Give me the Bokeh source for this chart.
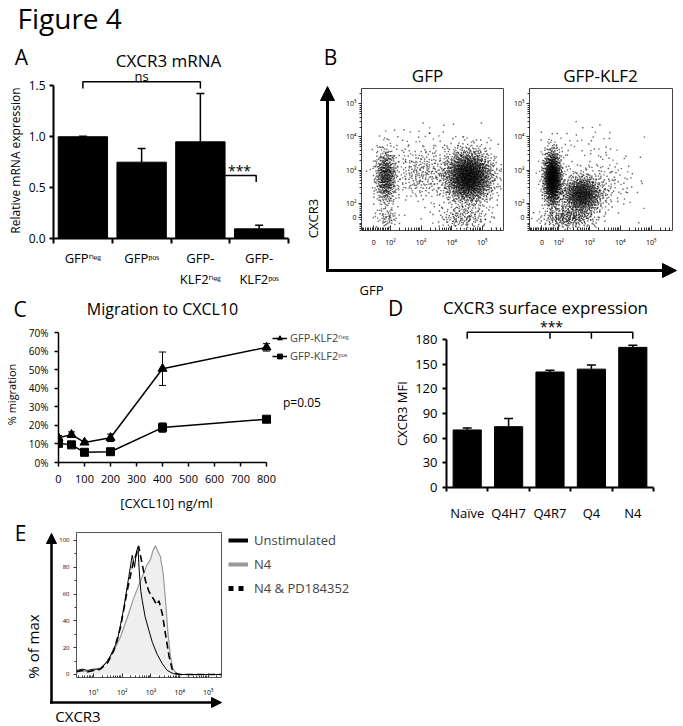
import numpy as np
from bokeh.plotting import figure
from bokeh.models import (Label, Arrow, NormalHead, Whisker, TeeHead, ColumnDataSource,
                          FixedTicker, Legend, LegendItem, Range1d, PrintfTickFormatter, GridBox)
from bokeh.embed import file_html
from bokeh.resources import INLINE

FONT = "Open Sans"
W, H = 680, 724   # whole page, in the reference's pixel coordinates

# ---------------- data ----------------
# A: CXCR3 mRNA
a_categories = ["GFPⁿᵉᵍ", "GFPᵖᵒˢ", "GFP-\nKLF2ⁿᵉᵍ", "GFP-\nKLF2ᵖᵒˢ"]
a_values = [1.00, 0.75, 0.95, 0.095]
a_errors = [0.005, 0.135, 0.475, 0.035]
a_ns_pair = (0, 2)
a_ns_height = 1.54
a_star_height = 0.62

# B: flow cytometry dot plots, display units (decades); clusters
b_tick_x = [1.455, 2, 3, 4, 5]
b_tick_y = [1.577, 2, 3, 4, 5]
b_tick_labels = ["0", "10²", "10³", "10⁴", "10⁵"]
b_left_cx = [1.85, 4.55, 3.00, 4.40, 1.90, 3.20]
b_left_cy = [2.80, 2.80, 2.90, 1.55, 1.55, 3.90]
b_left_sx = [0.18, 0.40, 0.45, 0.45, 0.20, 0.90]
b_left_sy = [0.43, 0.40, 0.40, 0.18, 0.15, 0.30]
b_left_n = [550, 2000, 260, 160, 60, 40]
b_right_cx = [1.80, 2.75, 2.30, 3.60, 2.80]
b_right_cy = [2.75, 2.25, 1.55, 2.60, 3.80]
b_right_sx = [0.15, 0.33, 0.45, 0.50, 0.70]
b_right_sy = [0.42, 0.30, 0.16, 0.45, 0.35]
b_right_n = [1200, 1000, 280, 120, 40]

# C: migration to CXCL10
c_dose = [0, 50, 100, 200, 400, 800]
c_neg = [13.3, 15.0, 10.8, 13.3, 50.5, 62.0]
c_neg_err = [1.2, 1.5, 0.8, 2.0, 9.0, 2.0]
c_pos = [10.3, 9.5, 5.5, 5.8, 18.8, 23.3]
c_pos_err = [1.5, 1.0, 0.6, 0.6, 2.5, 0.8]

# D: CXCR3 surface expression
d_categories = ["Naïve", "Q4H7", "Q4R7", "Q4", "N4"]
d_values = [70, 74, 140.5, 144, 170.5]
d_errors = [2.5, 10, 2, 5, 2.5]
d_bracket_legs = [0, 2, 3, 4]
d_bracket_height = 189

# E: CXCR3 histograms (log10 fluorescence, % of max)
e_unstim_x = [0.41, 0.6, 0.8, 1.0, 1.24, 1.45, 1.59, 1.83, 2.06, 2.23, 2.35, 2.43, 2.5, 2.55, 2.6, 2.65,
              2.70, 2.8, 2.93, 3.05, 3.22, 3.4, 3.57, 3.7, 3.8, 4.0, 5.46]
e_unstim_y = [3, 4, 3, 4, 4, 9, 14, 25, 50, 73, 89, 80, 92, 95, 75, 62,
              55, 43, 33, 24, 15, 8, 3, 1.5, 0.5, 0, 0]
e_n4_x = [0.41, 0.6, 0.8, 1.0, 1.24, 1.5, 1.71, 1.94, 2.17, 2.40, 2.64, 2.87, 2.99, 3.08, 3.16, 3.24,
          3.33, 3.43, 3.51, 3.59, 3.68, 3.77, 3.89, 4.0, 5.46]
e_n4_y = [2, 3, 2, 3, 5, 10, 18, 28, 42, 57, 70, 82, 86, 93, 96, 92,
          88, 75, 55, 32, 14, 4, 1, 0, 0]
e_pd_x = [0.41, 0.6, 0.8, 1.0, 1.24, 1.5, 1.71, 1.94, 2.17, 2.40, 2.5, 2.57, 2.70, 2.81, 2.93, 3.10,
          3.20, 3.28, 3.40, 3.51, 3.63, 3.74, 3.86, 4.0, 5.46]
e_pd_y = [2, 3, 2, 3, 4, 9, 18, 35, 62, 85, 90, 96, 82, 70, 62, 56,
          52, 55, 45, 30, 14, 4, 1, 0, 0]
e_series = ["Unstimulated", "N4", "N4 & PD184352"]


# ---------------- helpers ----------------
def make_figure(**kw):
    kw.update(output_backend="svg", toolbar_location=None, width=W, height=H)
    try:
        f = figure(frame_align=False, **kw)
    except Exception:
        f = figure(**kw)
    f.border_fill_alpha = 0
    f.background_fill_alpha = 0
    f.outline_line_color = None
    return f


def panel(frame_box, xr, yr):
    """A full-page transparent canvas whose plotting frame sits at frame_box (page px)."""
    fl, ft, fr, fb = frame_box
    f = make_figure(x_range=Range1d(*xr), y_range=Range1d(*yr),
                    min_border_left=fl, min_border_right=W - fr,
                    min_border_top=ft, min_border_bottom=H - fb)
    f.xgrid.visible = False
    f.ygrid.visible = False
    return f


def style_axis(ax, size, tick_in=0, tick_out=4, standoff=4, minor_in=0, minor_out=0,
               width=1.0, color="black"):
    ax.major_label_text_font = FONT
    ax.major_label_text_font_size = f"{size}px"
    ax.major_label_text_color = "black"
    ax.major_tick_in = int(tick_in)
    ax.major_tick_out = int(tick_out)
    ax.minor_tick_in = int(minor_in)
    ax.minor_tick_out = int(minor_out)
    ax.major_label_standoff = int(standoff)
    ax.axis_line_width = width
    ax.major_tick_line_width = width
    ax.minor_tick_line_width = width
    ax.axis_line_color = color
    ax.major_tick_line_color = color
    ax.minor_tick_line_color = color


def halton(n, base, skip):
    seq = np.zeros(n)
    for i in range(n):
        f, r, k = 1.0, 0.0, i + skip
        while k > 0:
            f /= base
            r += f * (k % base)
            k //= base
        seq[i] = r
    return seq


def clouds(cx, cy, sx, sy, ns):
    xs, ys = [], []
    for j, (a, b, c, d, n) in enumerate(zip(cx, cy, sx, sy, ns)):
        u1 = halton(n, 2, 1 + 4099 * j)
        u2 = halton(n, 3, 1 + 4099 * j)
        rr = np.sqrt(-2 * np.log(u1))
        th = 2 * np.pi * u2
        xs.append(a + c * rr * np.cos(th))
        ys.append(b + d * rr * np.sin(th))
    return np.concatenate(xs), np.concatenate(ys)


# ---------------- panel A ----------------
pa = panel((53, 65, 288, 238), (-0.5, 3.5), (0, 1.7))
a_idx = list(range(len(a_categories)))
a_width = 0.84
pa.vbar(x=a_idx, top=a_values, width=a_width, fill_color="black", line_color="black")
a_src = ColumnDataSource(dict(x=a_idx, lo=a_values, hi=[v + e for v, e in zip(a_values, a_errors)]))
pa.add_layout(Whisker(source=a_src, base="x", lower="lo", upper="hi", line_width=1.5,
                      upper_head=TeeHead(size=8, line_width=1.5), lower_head=None))
i0, i1 = a_ns_pair
pa.line(x=[i0, i0, i1, i1], y=[a_ns_height - 0.065, a_ns_height, a_ns_height, a_ns_height - 0.065],
        line_color="black", line_width=1.5)
pa.line(x=[2 + a_width / 2, 2.95, 2.95], y=[a_star_height, a_star_height, a_star_height - 0.065],
        line_color="black", line_width=1.5)
pa.xaxis.ticker = FixedTicker(ticks=a_idx, minor_ticks=[-0.5, 0.5, 1.5, 2.5, 3.5])
pa.xaxis.major_label_overrides = {i: c for i, c in enumerate(a_categories)}
style_axis(pa.xaxis[0], 13, tick_in=0, tick_out=0, standoff=5, minor_out=5, width=2)
pa.yaxis.ticker = FixedTicker(ticks=[0, 0.5, 1.0, 1.5])
pa.yaxis.formatter = PrintfTickFormatter(format="%.1f")
pa.yaxis.bounds = (0, 1.5)
style_axis(pa.yaxis[0], 12, tick_out=4, standoff=4, width=2)

# ---------------- panel B ----------------
b_minor = [np.log10(k) + d for d in range(2, 6) for k in range(2, 10)] + \
          [1.455 + 0.0545 * k for k in range(-7, 10) if k != 0]


def flow_panel(frame_box, cx, cy, sx, sy, ns):
    f = panel(frame_box, (1.053, 5.693), (1.175, 5.465))
    f.outline_line_color = "#444444"
    f.outline_line_width = 1
    xs, ys = clouds(cx, cy, sx, sy, ns)
    f.scatter(xs, ys, marker="square", size=1.4, fill_color="black", line_color=None, fill_alpha=0.6)
    f.xaxis.ticker = FixedTicker(ticks=b_tick_x, minor_ticks=b_minor)
    f.xaxis.major_label_overrides = dict(zip(b_tick_x, b_tick_labels))
    style_axis(f.xaxis[0], 7, tick_in=5, tick_out=0, standoff=7, minor_in=3, color="#333333")
    f.xaxis.axis_line_color = None
    f.yaxis.ticker = FixedTicker(ticks=b_tick_y, minor_ticks=b_minor)
    f.yaxis.major_label_overrides = dict(zip(b_tick_y, b_tick_labels))
    style_axis(f.yaxis[0], 7, tick_out=3, standoff=2, minor_out=2, color="#333333")
    f.yaxis.axis_line_color = None
    return f


pb1 = flow_panel((361, 88, 503, 230), b_left_cx, b_left_cy, b_left_sx, b_left_sy, b_left_n)
pb2 = flow_panel((529, 88, 672, 230), b_right_cx, b_right_cy, b_right_sx, b_right_sy, b_right_n)

# ---------------- panel C ----------------
# frame reaches right to hold the legend; x axis itself is bounded to 0..800
pc = panel((58, 326, 365, 462), (0, 307 / 0.26), (0, 136 / 1.857))
rn_l = pc.line(c_dose, c_neg, line_color="black", line_width=1.5)
rn_s = pc.scatter(c_dose, c_neg, marker="triangle", size=9, color="black")
rp_l = pc.line(c_dose, c_pos, line_color="black", line_width=1.5)
rp_s = pc.scatter(c_dose, c_pos, marker="square", size=8, color="black")
for vals, errs in ((c_neg, c_neg_err), (c_pos, c_pos_err)):
    s = ColumnDataSource(dict(x=c_dose, lo=[v - e for v, e in zip(vals, errs)],
                              hi=[v + e for v, e in zip(vals, errs)]))
    pc.add_layout(Whisker(source=s, base="x", lower="lo", upper="hi", line_width=1,
                          upper_head=TeeHead(size=7, line_width=1),
                          lower_head=TeeHead(size=7, line_width=1)))
pc.xaxis.ticker = FixedTicker(ticks=list(range(0, 801, 100)))
pc.xaxis.bounds = (0, 800)
style_axis(pc.xaxis[0], 11, tick_out=4, standoff=8, width=1.5)
pc.yaxis.ticker = FixedTicker(ticks=list(range(0, 71, 10)))
pc.yaxis.formatter = PrintfTickFormatter(format="%d%%")
pc.yaxis.bounds = (0, 70)
style_axis(pc.yaxis[0], 10, tick_out=4, standoff=6, width=1.5)
c_legend = Legend(items=[LegendItem(label="GFP-KLF2ⁿᵉᵍ", renderers=[rn_l, rn_s]),
                         LegendItem(label="GFP-KLF2ᵖᵒˢ", renderers=[rp_l, rp_s])],
                  location=(214, 99), glyph_width=15, glyph_height=12, label_height=12,
                  label_standoff=3, spacing=3, padding=0, margin=0, border_line_color=None,
                  background_fill_alpha=0, label_text_font=FONT, label_text_font_size="11px")
pc.add_layout(c_legend)

# ---------------- panel D ----------------
pd_ = panel((446, 323, 653, 487), (-0.5, 4.5), (0, 164 / 0.822))
d_idx = list(range(len(d_categories)))
pd_.vbar(x=d_idx, top=d_values, width=0.68, fill_color="black", line_color="black")
d_src = ColumnDataSource(dict(x=d_idx, lo=d_values, hi=[v + e for v, e in zip(d_values, d_errors)]))
pd_.add_layout(Whisker(source=d_src, base="x", lower="lo", upper="hi", line_width=1.5,
                       upper_head=TeeHead(size=9, line_width=1.5), lower_head=None))
pd_.line(x=[d_bracket_legs[0], d_bracket_legs[0], d_bracket_legs[-1], d_bracket_legs[-1]],
         y=[d_bracket_height - 8, d_bracket_height, d_bracket_height, d_bracket_height - 8],
         line_color="black", line_width=1.5)
for leg in d_bracket_legs[1:-1]:
    pd_.line(x=[leg, leg], y=[d_bracket_height, d_bracket_height - 8], line_color="black", line_width=1.5)
pd_.xaxis.ticker = FixedTicker(ticks=d_idx, minor_ticks=[-0.5, 0.5, 1.5, 2.5, 3.5, 4.5])
pd_.xaxis.major_label_overrides = {i: c for i, c in enumerate(d_categories)}
style_axis(pd_.xaxis[0], 13, tick_out=0, standoff=12, minor_out=4, width=2)
pd_.yaxis.ticker = FixedTicker(ticks=list(range(0, 181, 30)))
pd_.yaxis.bounds = (0, 180)
style_axis(pd_.yaxis[0], 13, tick_out=4, standoff=5, width=2)

# ---------------- panel E ----------------
pe = panel((76, 532, 221, 677), (0.408, 5.46), (-2.24, 105.97))
pe.outline_line_color = "#555555"
pe.outline_line_width = 1
pe.varea(x=e_n4_x, y1=[0] * len(e_n4_x), y2=e_n4_y, fill_color="#efefef")
pe.line(e_n4_x, e_n4_y, line_color="#999999", line_width=1.2)
pe.line(e_unstim_x, e_unstim_y, line_color="black", line_width=1)
pe.line(e_pd_x, e_pd_y, line_color="black", line_width=1.6, line_dash="7 4")
e_minor = [np.log10(k) + d for d in range(0, 6) for k in range(2, 10)]
pe.xaxis.ticker = FixedTicker(ticks=[1, 2, 3, 4, 5], minor_ticks=e_minor)
pe.xaxis.major_label_overrides = {1: "10¹", 2: "10²", 3: "10³", 4: "10⁴", 5: "10⁵"}
style_axis(pe.xaxis[0], 7, tick_in=4, tick_out=0, standoff=10, minor_in=2, color="#333333")
pe.xaxis.axis_line_color = None
pe.yaxis.ticker = FixedTicker(ticks=[0, 20, 40, 60, 80, 100], minor_ticks=[10, 30, 50, 70, 90])
style_axis(pe.yaxis[0], 6, tick_out=3, standoff=4, minor_out=2, color="#333333")
pe.yaxis.axis_line_color = None

# ---------------- overlay: texts, arrows, E legend (page coordinates) ----------------
ov = make_figure(x_range=Range1d(0, W), y_range=Range1d(H, 0), x_axis_type=None, y_axis_type=None,
                 min_border=0)
ov.xgrid.visible = False
ov.ygrid.visible = False


def label(px, py, text, size, align="center", angle=0.0):
    ov.add_layout(Label(x=px, y=py, text=text, text_font=FONT, text_font_size=f"{size}px",
                        text_align=align, text_baseline="middle", angle=angle, text_color="black"))


def arrow(x0, y0, x1, y1, width, head):
    end = NormalHead(size=head, fill_color="black", line_color="black") if head else None
    ov.add_layout(Arrow(x_start=x0, y_start=y0, x_end=x1, y_end=y1, line_width=width,
                        line_color="black", end=end))


label(17, 17.5, "Figure 4", 28, align="left")
label(21, 56, "A", 21)
label(168, 60, "CXCR3 mRNA", 17)
label(141, 75, "ns", 13)
label(239, 170, "***", 14)
label(15, 160, "Relative mRNA expression", 12, angle=np.pi / 2)

label(330, 56, "B", 21)
label(427, 75, "GFP", 17)
label(600, 75, "GFP-KLF2", 17)
arrow(327, 271.5, 327, 86, 3, 14)
arrow(325.5, 270, 676, 270, 3, 14)
label(371, 289, "GFP", 13)
label(312, 218, "CXCR3", 13, angle=np.pi / 2)

label(19.5, 308, "C", 21)
label(162, 308, "Migration to CXCL10", 16)
label(166, 502, "[CXCL10] ng/ml", 13)
label(11, 394, "% migration", 11, angle=np.pi / 2)
label(301.5, 402, "p=0.05", 12)

label(395, 307, "D", 21)
label(545, 307, "CXCR3 surface expression", 17)
label(551, 326, "***", 14)
label(401, 413, "CXCR3 MFI", 13, angle=np.pi / 2)

label(20, 532, "E", 21)
label(77.5, 715, "CXCR3", 15)
label(32, 646, "% of max", 15, angle=np.pi / 2)
arrow(51, 703, 51, 533, 2.5, 10)
arrow(49.5, 702, 221, 702, 2.5, 10)
# legend keys for panel E (NaN data: nothing drawn on the page, keys drawn by the legend)
nan = [float("nan")]
r_u = ov.line(x=nan, y=nan, line_color="black", line_width=4)
r_n = ov.line(x=nan, y=nan, line_color="#999999", line_width=4)
r_p = ov.line(x=nan, y=nan, line_color="black", line_width=5, line_dash="5 5")
e_legend = Legend(items=[LegendItem(label=e_series[0], renderers=[r_u]),
                         LegendItem(label=e_series[1], renderers=[r_n]),
                         LegendItem(label=e_series[2], renderers=[r_p])],
                  location=(228, H - 597), glyph_width=20, glyph_height=16, label_height=16,
                  label_standoff=6, spacing=6, padding=0, margin=0, border_line_color=None,
                  background_fill_alpha=0, label_text_font=FONT, label_text_font_size="13px")
ov.add_layout(e_legend)

figs = [pa, pb1, pb2, pc, pd_, pe, ov]
layout = GridBox(children=[(f, 0, 0) for f in figs])
open("out.html", "w").write(file_html(layout, INLINE))
